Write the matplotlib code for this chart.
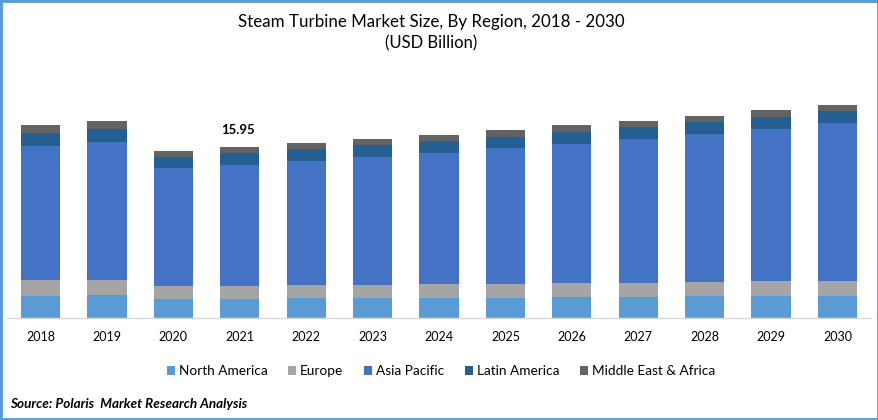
import matplotlib.pyplot as plt
from matplotlib.patches import Rectangle

plt.rcParams["font.family"] = ["Lato", "DejaVu Sans"]

years = ["2018", "2019", "2020", "2021", "2022", "2023", "2024",
         "2025", "2026", "2027", "2028", "2029", "2030"]
north_america = [2.05, 2.15, 1.77, 1.77, 1.87, 1.87, 1.87, 1.87, 1.96, 1.96, 2.05, 2.05, 2.05]
europe = [1.49, 1.40, 1.21, 1.21, 1.21, 1.21, 1.31, 1.31, 1.31, 1.31, 1.31, 1.40, 1.40]
asia_pacific = [12.50, 12.87, 11.01, 11.29, 11.57, 11.94, 12.22, 12.69, 12.97, 13.43, 13.81, 14.18, 14.74]
latin_america = [1.21, 1.21, 1.03, 1.12, 1.12, 1.12, 1.12, 1.03, 1.12, 1.12, 1.12, 1.12, 1.12]
mea = [0.75, 0.75, 0.56, 0.56, 0.56, 0.56, 0.56, 0.65, 0.65, 0.56, 0.56, 0.65, 0.56]

series = [
    ("North America", north_america, "#5B9BD5"),
    ("Europe", europe, "#A5A5A5"),
    ("Asia Pacific", asia_pacific, "#4472C4"),
    ("Latin America", latin_america, "#255E91"),
    ("Middle East & Africa", mea, "#636363"),
]

W, H = 879, 420
fig = plt.figure(figsize=(W / 100, H / 100), dpi=100)
ax = fig.add_axes([7.3 / W, 1 - 318 / H, 863.4 / W, 228 / H])

bottom = [0.0] * len(years)
for name, values, color in series:
    ax.bar(years, values, width=0.59, bottom=bottom, color=color, label=name)
    bottom = [b + v for b, v in zip(bottom, values)]

ax.set_xlim(-0.5, len(years) - 0.5)
ax.set_ylim(0, 228 / 10.72)
ax.yaxis.set_visible(False)
for side in ["top", "left", "right"]:
    ax.spines[side].set_visible(False)
ax.spines["bottom"].set_color("#D9D9D9")
ax.spines["bottom"].set_linewidth(1)
ax.tick_params(axis="x", length=0, pad=9.5, labelsize=9, labelcolor="black")

# only 2021 carries a label in the original
ax.annotate("15.95", (3, bottom[3]), xytext=(-1, 8), textcoords="offset points",
            ha="center", va="bottom", fontsize=9.5, fontweight="bold", color="black")

ax.legend(loc="center", bbox_to_anchor=(441 / W, 1 - 371 / H), bbox_transform=fig.transFigure,
          ncol=5, frameon=False, fontsize=9.8, handlelength=0.6, handleheight=0.6,
          handletextpad=0.3, columnspacing=1.5, labelcolor="black")

fig.text(431 / W, 1 - 22 / H, "Steam Turbine Market Size, By Region, 2018 - 2030",
         ha="center", va="center", fontsize=12.2, color="black")
fig.text(431 / W, 1 - 43 / H, "(USD Billion)", ha="center", va="center", fontsize=12, color="black")
fig.text(10 / W, 1 - 404 / H, "Source: Polaris  Market Research Analysis", ha="left", va="center",
         fontsize=9.7, fontweight="bold", fontstyle="italic", color="black")

# blue frame around the image
fig.add_artist(Rectangle((0, 0), 1, 1, transform=fig.transFigure, fill=False,
                         edgecolor="#5B9BD5", linewidth=3.5))

fig.savefig("out.png", dpi=100)
